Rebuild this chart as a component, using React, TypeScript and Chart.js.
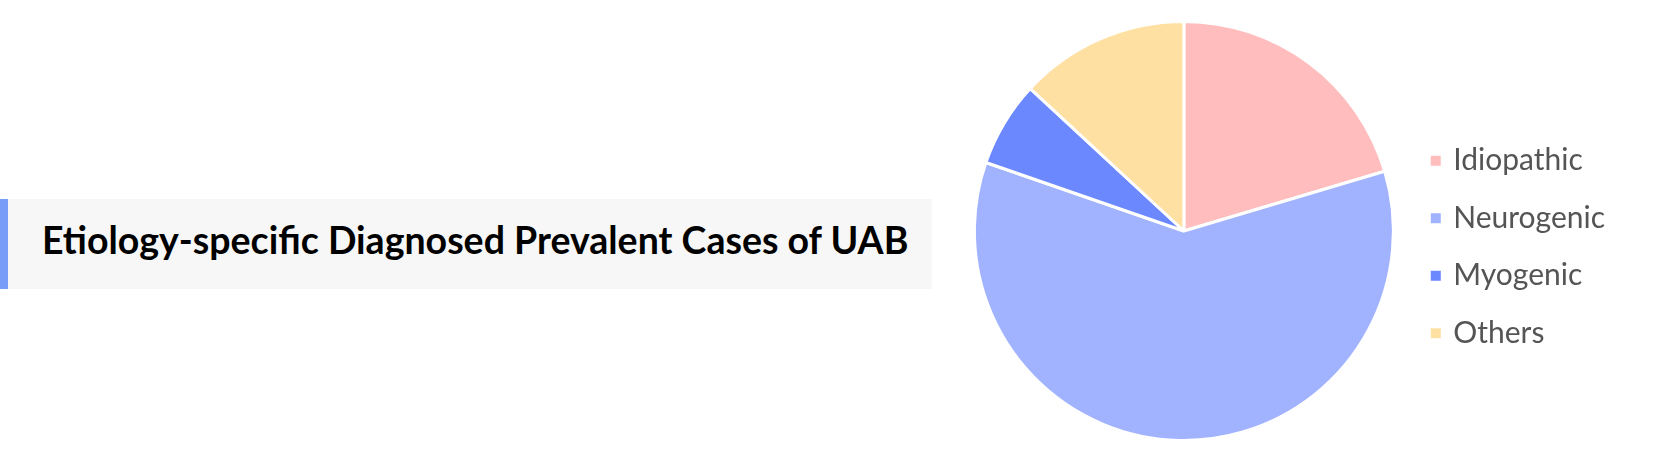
import React, { useEffect, useRef } from 'react';
import { Chart, registerables } from 'chart.js';

Chart.register(...registerables);

const categories = ['Idiopathic', 'Neurogenic', 'Myogenic', 'Others'];
const shares = [20.4, 59.9, 6.6, 13.1];
const sliceColors = ['#FFBDBE', '#A1B3FF', '#6B88FF', '#FFE0A3'];
const titleText = 'Etiology-specific Diagnosed Prevalent Cases of UAB';

const EtiologyPie: React.FC = () => {
  const canvasRef = useRef<HTMLCanvasElement>(null);
  const chartInstance = useRef<Chart | null>(null);

  useEffect(() => {
    if (!canvasRef.current) return;
    const ctx = canvasRef.current.getContext('2d');
    if (!ctx) return;

    chartInstance.current = new Chart(ctx, {
      type: 'pie',
      data: {
        labels: categories,
        datasets: [
          {
            data: shares,
            backgroundColor: sliceColors,
            borderColor: '#ffffff',
            borderWidth: 3,
          },
        ],
      },
      options: {
        responsive: true,
        maintainAspectRatio: false,
        animation: false,
        radius: 209.5,
        layout: { padding: { top: 9 } },
        plugins: {
          tooltip: { enabled: false },
          legend: {
            position: 'right',
            // empty title only nudges the legend items down
            title: { display: true, text: '', padding: 0, font: { size: 32, lineHeight: 1 } },
            labels: {
              usePointStyle: true,
              pointStyle: 'rect',
              boxWidth: 5,
              boxHeight: 13,
              padding: 27.5,
              color: '#555555',
              font: { family: 'Lato', size: 30 },
            },
          },
        },
      },
    });

    return () => {
      chartInstance.current?.destroy();
      chartInstance.current = null;
    };
  }, []);

  return (
    <div style={{ position: 'absolute', left: 962, top: 0, width: 653, height: 453 }}>
      <canvas ref={canvasRef} />
    </div>
  );
};

export default function App() {
  useEffect(() => {
    document.body.style.margin = '0';
  }, []);

  return (
    <div style={{ position: 'relative', width: 1667, height: 453, background: '#fff', overflow: 'hidden' }}>
      <div
        style={{
          position: 'absolute',
          left: 0,
          top: 199,
          width: 932,
          height: 90,
          background: '#f7f7f7',
          borderLeft: '8px solid #789DF8',
          display: 'flex',
          alignItems: 'center',
          paddingLeft: 34,
          paddingBottom: 9,
          boxSizing: 'border-box',
          fontFamily: 'Lato',
          fontWeight: 700,
          fontSize: 37.5,
          color: '#000',
          whiteSpace: 'nowrap',
        }}
      >
        {titleText}
      </div>
      <EtiologyPie />
    </div>
  );
}
